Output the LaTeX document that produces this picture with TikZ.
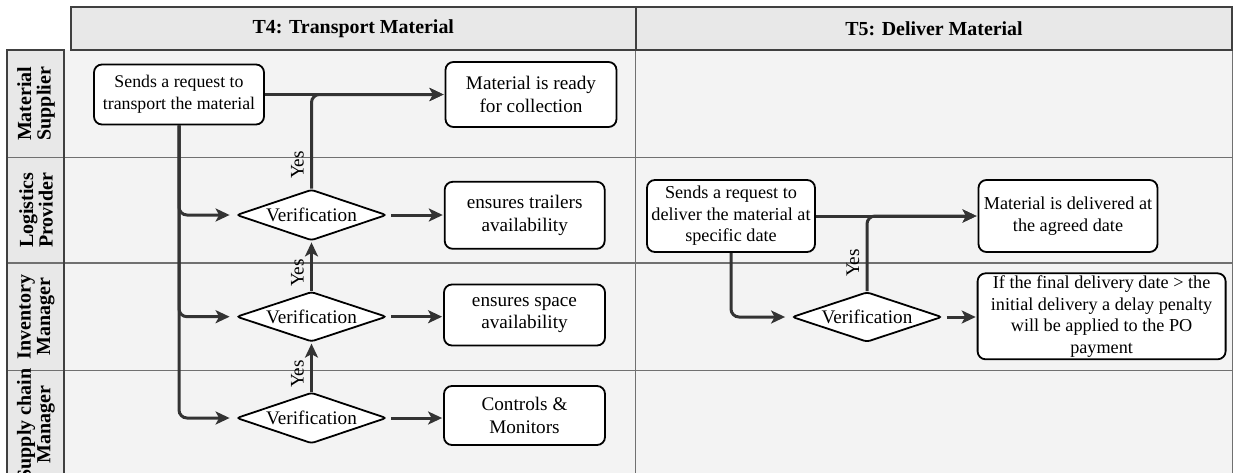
\documentclass[tikz,border=0pt]{standalone}
\usepackage{fontspec}
\setmainfont{Liberation Serif}
\usetikzlibrary{shapes.geometric,arrows.meta,calc}
\definecolor{lanefill}{HTML}{F3F3F3}
\definecolor{headfill}{HTML}{E8E8E8}
\definecolor{rulec}{HTML}{707070}
\definecolor{framec}{HTML}{404040}
\definecolor{flowc}{HTML}{333333}
\begin{document}
\begin{tikzpicture}[x=1pt,y=-1pt,
  bodyfont/.style={font=\fontsize{19.2}{22.6}\selectfont},
  smallfont/.style={font=\fontsize{17.8}{22}\selectfont},
  tfivefont/.style={font=\fontsize{18.2}{21.5}\selectfont},
  box/.style={bodyfont, draw=black, line width=1.8pt, fill=white, rounded corners=8pt,
    align=center, inner sep=0pt},
  decision/.style={bodyfont, diamond, draw=black, line width=1.8pt, fill=white,
    rounded corners=3pt, aspect=3, minimum width=150pt, minimum height=51pt, inner sep=0pt},
  flow/.style={draw=flowc, line width=3pt, rounded corners=8pt,
    -{Stealth[length=14pt,width=13pt,inset=3.5pt]}},
  yeslabel/.style={bodyfont, rotate=90, inner sep=0pt},
  lanelabel/.style={rotate=90, align=center, inner sep=0pt,
    font=\bfseries\fontsize{20}{19.5}\selectfont},
  headtext/.style={font=\bfseries\fontsize{19.9}{24}\selectfont, inner sep=0pt},
  laneline/.style={draw=rulec, line width=1.5pt},
  frameline/.style={draw=framec, line width=2pt}
]
\useasboundingbox (0,0) rectangle (1237,472);
\fill[white] (0,0) rectangle (1237,472);

% pool background: lane area, column headers, lane header column
\fill[lanefill] (64.3,50) rectangle (1232.3,480);
\fill[headfill] (71,7.3) rectangle (1232.3,50);
\fill[headfill] (7.3,50) rectangle (64.3,480);

% lane separators and column divider
\foreach \yy in {157.5,263,370.7}
  \draw[laneline] (7.3,\yy) -- (1232.3,\yy);
\draw[laneline] (635.7,50) -- (635.7,480);
\draw[laneline] (1232.3,50) -- (1232.3,480);
\draw[frameline] (7.3,480) -- (7.3,50) -- (64.3,50) -- (64.3,480);
\draw[frameline] (71,50) -- (71,7.3) -- (1232.3,7.3) -- (1232.3,50) -- cycle;
\draw[frameline] (635.7,7.3) -- (635.7,50);

% column headers
\node[headtext] (h4) at (353.3,28.7) {T4: Transport Material};
\node[headtext] (h5) at (934,28.7) {T5: Deliver Material};

% lane headers
\node[lanelabel] (l1) at (36,103.7) {Material\\Supplier};
\node[lanelabel] (l2) at (36,210.2) {Logistics\\Provider};
\node[lanelabel] (l3) at (36,316.8) {Inventory\\Manager};
\node[lanelabel] (l4) at (36,424.5) {Supply chain\\Manager};

% T4: Transport Material
\node[box, smallfont, minimum width=170pt, minimum height=60pt] (b1) at (179,94.5)
  {Sends a request to\\transport the material};
\node[box, minimum width=171pt, minimum height=65pt] (b2) at (531,94.5)
  {Material is ready\\for collection};
\node[decision] (d1) at (311.5,215) {Verification};
\node[box, minimum width=160pt, minimum height=67pt] (b3) at (524.7,215.3)
  {ensures trailers\\availability};
\node[decision, minimum height=50pt] (d2) at (311.5,316.7) {Verification};
\node[box, minimum width=161pt, minimum height=61pt] (b4) at (524.5,315)
  {ensures space\\availability};
\node[decision] (d3) at (311.5,418) {Verification};
\node[box, minimum width=161pt, minimum height=59pt] (b5) at (524.5,415.5)
  {Controls \&\\Monitors};

\draw[flow, shorten >=1pt] (b1.east) -- (b1.east -| b2.west);
\draw[flow, shorten >=1pt] (d1.north) |- (b2.west);
\draw[flow, shorten >=6pt] (b1.south) |- (d1.west);
\draw[flow, shorten >=6pt] (b1.south) |- (d2.west);
\draw[flow, shorten >=6pt] (b1.south) |- (d3.west);
\draw[flow, shorten <=4pt, shorten >=1pt] (d1.east) -- (b3.west |- d1.east);
\draw[flow, shorten <=4pt, shorten >=1pt] (d2.east) -- (b4.west |- d2.east);
\draw[flow, shorten <=4pt, shorten >=1pt] (d3.east) -- (b5.west |- d3.east);
\draw[flow, shorten >=1pt] (d2.north) -- (d1.south);
\draw[flow, shorten >=1pt] (d3.north) -- (d2.south);

\node[yeslabel] (y1) at (297.5,165) {Yes};
\node[yeslabel] (y2) at (297.5,273) {Yes};
\node[yeslabel] (y3) at (297.5,374) {Yes};

% T5: Deliver Material
\node[box, tfivefont, minimum width=168pt, minimum height=72pt] (c1) at (731,216)
  {Sends a request to\\deliver the material at\\specific date};
\node[box, tfivefont, minimum width=179pt, minimum height=72pt] (c2) at (1068,216)
  {Material is delivered at\\the agreed date};
\node[decision, minimum height=50pt] (dd) at (867,317) {Verification};
\node[box, tfivefont, minimum width=248pt, minimum height=86pt] (c3) at (1101.6,316.3)
  {If the final delivery date > the\\initial delivery a delay penalty\\will be applied to the PO\\payment};

\draw[flow, shorten >=1pt] (c1.east) -- (c1.east -| c2.west);
\draw[flow, shorten >=1pt] (dd.north) |- (c2.west);
\draw[flow, shorten >=6pt] (c1.south) |- (dd.west);
\draw[flow, shorten <=4pt, shorten >=1pt] (dd.east) -- (c3.west |- dd.east);
\node[yeslabel] (y4) at (853,263) {Yes};
\end{tikzpicture}
\end{document}
